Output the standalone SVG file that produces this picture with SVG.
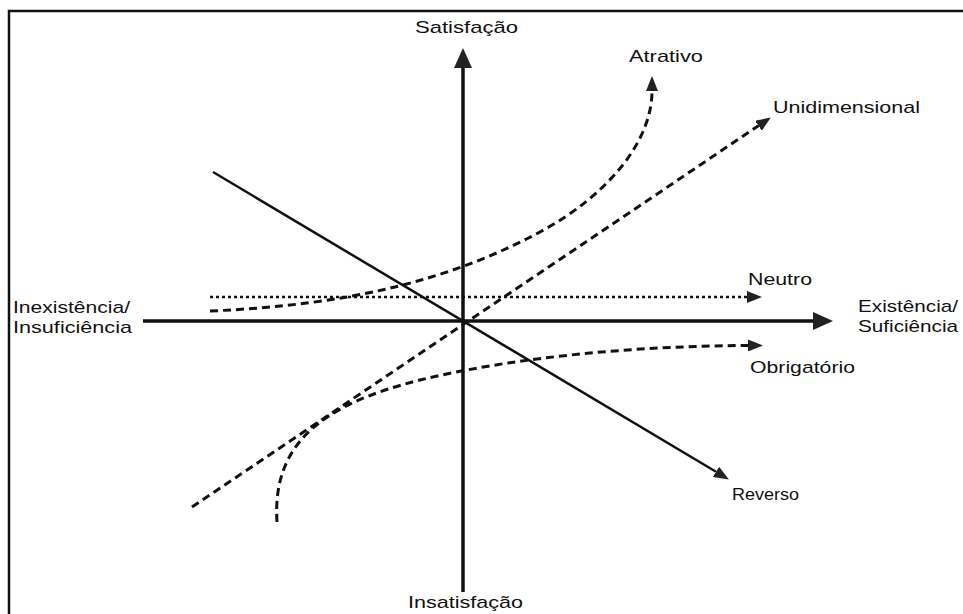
<svg xmlns="http://www.w3.org/2000/svg" width="963" height="614" viewBox="0 0 963 614">
<style>
  text { font-family: "Liberation Sans", Arial, sans-serif; font-size: 17px; fill: #111; }
  .axis { stroke: #111; stroke-width: 3.5; fill: none; }
  .solid { stroke: #111; stroke-width: 2.5; fill: none; }
  .dash { stroke: #111; stroke-width: 3; fill: none; stroke-dasharray: 8 5; }
  .dot { stroke: #111; stroke-width: 2.5; fill: none; stroke-dasharray: 3 3; }
</style>
<defs>
  <marker id="big" markerUnits="userSpaceOnUse" viewBox="0 0 20 18" refX="0" refY="9" markerWidth="20" markerHeight="18" orient="auto">
    <path d="M0,0 L20,9 L0,18 Z" fill="#222"/>
  </marker>
  <marker id="small" markerUnits="userSpaceOnUse" viewBox="0 0 15 12" refX="0" refY="6" markerWidth="15" markerHeight="12" orient="auto">
    <path d="M0,0 L15,6 L0,12 Z" fill="#222"/>
  </marker>
</defs>
<rect x="9" y="11" width="1000" height="700" fill="#fff" stroke="#111" stroke-width="2.5"/>
<g id="connectors">
  <path id="eixo-y" class="axis" d="M463,592 V68" marker-end="url(#big)"/>
  <path id="eixo-x" class="axis" d="M143,321 H813" marker-end="url(#big)"/>
  <path id="reverso" class="solid" d="M213,172 L716,471.8" marker-end="url(#small)"/>
  <path id="neutro" class="dot" d="M210,297 H747" marker-end="url(#small)"/>
  <path id="unidimensional" class="dash" d="M192,507 L758.4,125.8" marker-end="url(#small)"/>
  <path id="atrativo" class="dash" d="M210,311 C350,305 450,280 540,232 C610,194 652,140 652,91" marker-end="url(#small)"/>
  <path id="obrigatorio" class="dash" d="M277,522 C272,445 320,405 420,380 C520,356 640,346 748,345.5" marker-end="url(#small)"/>
</g>
<g id="satisfacao"><text x="415" y="33" textLength="103" lengthAdjust="spacingAndGlyphs">Satisfação</text></g>
<g id="insatisfacao"><text x="408" y="608" textLength="115" lengthAdjust="spacingAndGlyphs">Insatisfação</text></g>
<g id="inexistencia">
  <text x="13" y="313" textLength="117" lengthAdjust="spacingAndGlyphs">Inexistência/</text>
  <text x="13" y="333" textLength="119" lengthAdjust="spacingAndGlyphs">Insuficiência</text>
</g>
<g id="existencia">
  <text x="858" y="312" textLength="100" lengthAdjust="spacingAndGlyphs">Existência/</text>
  <text x="858" y="332" textLength="100" lengthAdjust="spacingAndGlyphs">Suficiência</text>
</g>
<g id="lbl-atrativo"><text x="629" y="62" textLength="74" lengthAdjust="spacingAndGlyphs">Atrativo</text></g>
<g id="lbl-unidimensional"><text x="773" y="113" textLength="147" lengthAdjust="spacingAndGlyphs">Unidimensional</text></g>
<g id="lbl-neutro"><text x="748" y="285" textLength="64" lengthAdjust="spacingAndGlyphs">Neutro</text></g>
<g id="lbl-obrigatorio"><text x="750" y="373" textLength="105" lengthAdjust="spacingAndGlyphs">Obrigatório</text></g>
<g id="lbl-reverso"><text x="732" y="500" textLength="67" lengthAdjust="spacingAndGlyphs">Reverso</text></g>
</svg>
